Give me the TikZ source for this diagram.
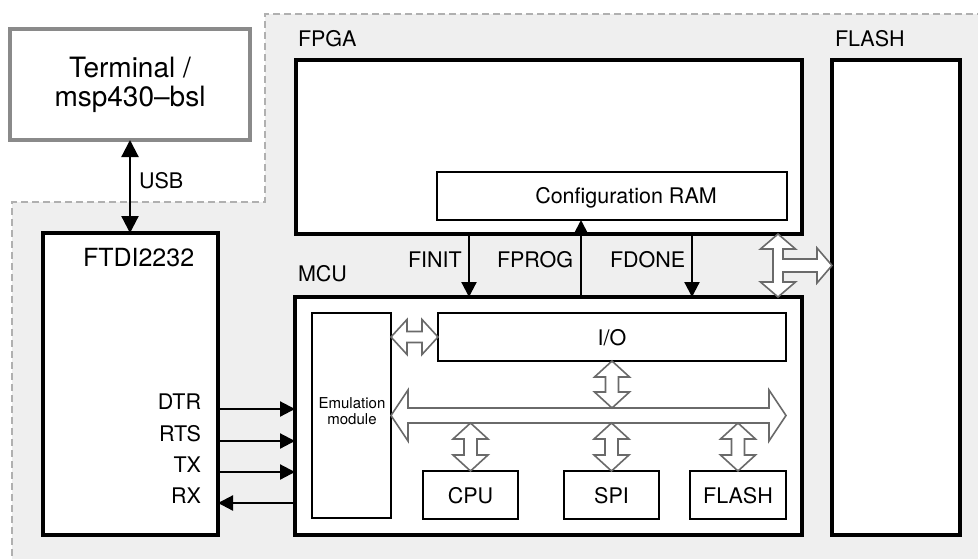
\documentclass[tikz,border=0pt]{standalone}
\usepackage{fontspec}
\setmainfont{TeX Gyre Heros}
\usetikzlibrary{calc,arrows.meta}

\definecolor{zonefill}{HTML}{EFEFEF}
\definecolor{zoneline}{HTML}{B0B0B0}
\definecolor{hostline}{HTML}{8A8A8A}
\definecolor{busline}{HTML}{6A6A6A}

\newcommand\lblfont{\fontsize{21.5pt}{25pt}\selectfont}
\newcommand\chipfont{\fontsize{25pt}{28pt}\selectfont}
\newcommand\hostfont{\fontsize{28pt}{29pt}\selectfont}
\newcommand\emufont{\fontsize{15pt}{16pt}\selectfont}

\tikzset{
  chip/.style={draw=black, line width=3.5pt, fill=white, inner sep=0pt, outer sep=0pt},
  block/.style={draw=black, line width=2.5pt, fill=white, inner sep=0pt, outer sep=0pt,
                font=\lblfont, text depth=0pt},
  host/.style={draw=hostline, line width=3.5pt, fill=white, inner sep=0pt, outer sep=0pt},
  lbl/.style={inner sep=0pt, outer sep=0pt, font=\lblfont},
  wire/.style={line width=2.2pt},
  >={Triangle[length=15pt,width=15pt]},
  bigtip/.tip={Triangle[length=17pt,width=17pt]},
  hollow/.style={draw=busline, fill=white, line width=1.6pt, line join=miter},
}

% double-headed hollow arrow, vertical: top tip, bottom tip, shaft half-width, head half-width, head length
\newcommand\hollowV[5]{%
  \draw[hollow] let \p1=(#1), \p2=(#2) in
    (\x1,\y1) -- (\x1+#4,\y1-#5) -- (\x1+#3,\y1-#5) -- (\x2+#3,\y2+#5) -- (\x2+#4,\y2+#5)
    -- (\x2,\y2) -- (\x2-#4,\y2+#5) -- (\x2-#3,\y2+#5) -- (\x1-#3,\y1-#5) -- (\x1-#4,\y1-#5) -- cycle;}
% double-headed hollow arrow, horizontal: left tip, right tip, shaft half-width, head half-width, head length
\newcommand\hollowH[5]{%
  \draw[hollow] let \p1=(#1), \p2=(#2) in
    (\x1,\y1) -- (\x1+#5,\y1+#4) -- (\x1+#5,\y1+#3) -- (\x2-#5,\y2+#3) -- (\x2-#5,\y2+#4)
    -- (\x2,\y2) -- (\x2-#5,\y2-#4) -- (\x2-#5,\y2-#3) -- (\x1+#5,\y1-#3) -- (\x1+#5,\y1-#4) -- cycle;}

\begin{document}
\begin{tikzpicture}[x=1pt,y=-1pt]
\useasboundingbox (0,0) rectangle (978,558);
\fill[white] (0,0) rectangle (978,558);
\clip (0,0) rectangle (978,558);

% board area
\fill[zonefill] (265,14) -- (995,14) -- (995,575) -- (12,575) -- (12,202) -- (265,202) -- cycle;
\draw[zoneline, line width=1.5pt, dash pattern=on 7pt off 4pt]
  (995,14) -- (265,14) -- (265,202) -- (12,202) -- (12,575);

% host side
\node[host, minimum width=240pt, minimum height=111pt, align=center, font=\hostfont]
  (term) at (130,84.5) {Terminal /\\msp430\textendash bsl};

% USB bridge
\node[chip, minimum width=175pt, minimum height=302pt] (ftdi) at (130.5,384) {};
\node[lbl, font=\chipfont, anchor=base west] (ftdilbl) at (83,266) {FTDI2232};
\node[lbl, anchor=base east] (dtr) at (201,409) {DTR};
\node[lbl, anchor=base east] (rts) at (201,441) {RTS};
\node[lbl, anchor=base east] (tx)  at (201,472) {TX};
\node[lbl, anchor=base east] (rx)  at (201,503) {RX};

% FPGA
\node[chip, minimum width=506pt, minimum height=174pt] (fpga) at (549,147) {};
\node[lbl, anchor=base west] (fpgalbl) at (298,46) {FPGA};
\node[block, minimum width=350pt, minimum height=48pt] (cram) at (612,196) {};
\node[lbl, anchor=base] (cramlbl) at (626,203) {Configuration RAM};

% external flash
\node[chip, minimum width=128pt, minimum height=475pt] (flash) at (896,297.5) {};
\node[lbl, anchor=base west] (flashlbl) at (835,46) {FLASH};

% MCU
\node[chip, minimum width=507pt, minimum height=238pt] (mcu) at (548.5,416) {};
\node[lbl, anchor=base west] (mculbl) at (298,281) {MCU};
\node[block, minimum width=79pt, minimum height=205pt] (emu) at (351.5,415.5) {};
\node[lbl, font=\emufont, anchor=base] (emul1) at (352,408) {Emulation};
\node[lbl, font=\emufont, anchor=base] (emul2) at (352,424) {module};
\node[block, minimum width=348pt, minimum height=48pt] (io) at (612,337) {I/O};
\node[block, minimum width=95pt, minimum height=48pt] (cpu) at (470.5,495) {CPU};
\node[block, minimum width=95pt, minimum height=48pt] (spi) at (611.5,495) {SPI};
\node[block, minimum width=96pt, minimum height=48pt] (flsm) at (738,495) {FLASH};

% USB link
\draw[wire, bigtip-bigtip] (term.south) -- (term.south |- ftdi.north);
\node[lbl, anchor=base west] (usb) at (139,188) {USB};

% serial lines
\draw[wire, ->] (ftdi.east |- dtr.base) -- (mcu.west |- dtr.base);
\draw[wire, ->] (ftdi.east |- rts.base) -- (mcu.west |- rts.base);
\draw[wire, ->] (ftdi.east |- tx.base)  -- (mcu.west |- tx.base);
\draw[wire, <-] (ftdi.east |- rx.base)  -- (mcu.west |- rx.base);

% FPGA configuration lines
\coordinate (xfinit) at (469,0);
\coordinate (xfprog) at (581,0);
\coordinate (xfdone) at (692,0);
\draw[wire, ->] (fpga.south -| xfinit) -- (mcu.north -| xfinit);
\draw[wire, ->] (mcu.north -| xfprog) -- (cram.south -| xfprog);
\draw[wire, ->] (fpga.south -| xfdone) -- (mcu.north -| xfdone);
\node[lbl, anchor=base west] (finit) at (408,267) {FINIT};
\node[lbl, anchor=base west] (fprog) at (497,267) {FPROG};
\node[lbl, anchor=base west] (fdone) at (610,267) {FDONE};

% internal bus
\coordinate (busN) at ($(emu.east)+(0,-7.5)$);
\coordinate (busS) at ($(emu.east)+(0,7.5)$);
\hollowH{emu.east}{emu.east -| io.east}{7.5pt}{25.5pt}{17pt}
\hollowH{emu.east |- io.west}{io.west}{5.5pt}{17.5pt}{16pt}
\hollowV{io.south}{io.south |- busN}{6.5pt}{17.5pt}{16pt}
\hollowV{cpu.north |- busS}{cpu.north}{6.5pt}{17.5pt}{16pt}
\hollowV{spi.north |- busS}{spi.north}{6.5pt}{17.5pt}{16pt}
\hollowV{flsm.north |- busS}{flsm.north}{6.5pt}{17.5pt}{16pt}

% shared bus FPGA / MCU / flash
\coordinate (xtee) at (778,0);
\coordinate (ytee) at (0,265.5);
\draw[hollow] let \p1=(fpga.south -| xtee), \p2=(mcu.north -| xtee), \p3=(flash.west |- ytee) in
  (\x1,\y1) -- (\x1+17.5pt,\y1-15pt) -- (\x1+5pt,\y1-15pt) -- (\x1+5pt,\y3+6.5pt)
  -- (\x3-15pt,\y3+6.5pt) -- (\x3-15pt,\y3+17.5pt) -- (\x3,\y3) -- (\x3-15pt,\y3-17.5pt)
  -- (\x3-15pt,\y3-6.5pt) -- (\x1+5pt,\y3-6.5pt) -- (\x2+5pt,\y2+15pt) -- (\x2+17.5pt,\y2+15pt)
  -- (\x2,\y2) -- (\x2-17.5pt,\y2+15pt) -- (\x2-5pt,\y2+15pt) -- (\x1-5pt,\y1-15pt)
  -- (\x1-17.5pt,\y1-15pt) -- cycle;
\end{tikzpicture}
\end{document}
